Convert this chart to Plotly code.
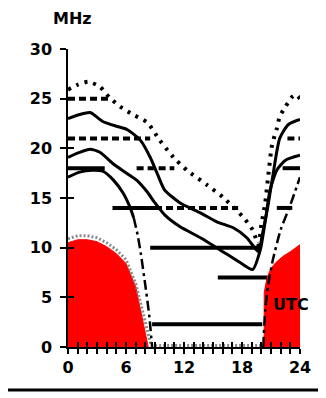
import plotly.graph_objects as go

# ---------------- data ----------------
# Upper dotted curve (MHz vs UTC hour)
dotted_hours = [0, 1.0, 2.1, 3.3, 4.3, 5.4, 6.7, 8.2, 9.5, 10.9, 12.3, 14.4, 16.0, 18.1, 19.1, 19.7,
                20.0, 20.4, 20.7, 21.1, 21.6, 21.9, 22.5, 23.2, 23.6, 24.0]
dotted_mhz = [25.9, 26.4, 26.7, 26.2, 25.1, 24.2, 23.4, 22.6, 20.8, 19.1, 17.8, 16.3, 15.1, 13.1, 11.8, 10.3,
              12.3, 14.5, 17.1, 20.3, 22.0, 23.2, 24.2, 25.2, 25.4, 25.0]

# Upper solid curve
b_hours = [0, 1.2, 2.3, 3.6, 5.1, 6.1, 7.5, 8.5, 9.3, 10.0, 11.6, 13.7, 15.4, 17.1, 18.5, 19.7,
           20.1, 20.7, 21.2, 21.9, 22.8, 24.0]
b_mhz = [23.0, 23.4, 23.6, 22.7, 22.2, 21.9, 20.8, 19.1, 17.3, 15.8, 14.5, 13.5, 12.6, 12.0, 11.0, 9.6,
         11.3, 14.3, 17.3, 21.0, 22.4, 22.9]

# Middle solid curve
c_hours = [0, 1.2, 2.3, 3.3, 4.6, 5.9, 7.1, 8.2, 9.0, 10.0, 11.6, 13.7, 15.7, 17.8, 19.1,
           19.9, 20.5, 20.9, 21.6, 22.5, 24.0]
c_mhz = [19.1, 19.6, 19.9, 19.6, 18.5, 17.6, 16.8, 15.6, 14.5, 13.3, 12.1, 11.0, 9.8, 8.5, 7.8,
         9.8, 13.3, 15.8, 17.8, 18.8, 19.3]

# Lower solid curve (continues as dash-dot)
d_hours = [0, 1.2, 2.5, 3.6, 4.7, 5.7, 6.4, 6.8]
d_mhz = [17.1, 17.6, 17.8, 17.7, 16.8, 15.5, 14.1, 13.0]
e_left_hours = [6.8, 7.2, 7.55, 8.0, 8.4, 8.7]
e_left_mhz = [13.0, 11.3, 9.3, 6.2, 3.2, 0]
e_right_hours = [20.2, 20.4, 20.7, 21.2, 22.0, 23.0, 24.0]
e_right_mhz = [0, 3.7, 6.2, 8.8, 11.8, 14.3, 17.1]

# Red areas
red_left_hours = [0, 1, 2, 3, 4, 5, 6, 7, 8.3]
red_left_mhz = [10.5, 10.8, 10.8, 10.6, 10.1, 9.4, 8.4, 6.1, 0]
red_right_hours = [20.3, 20.3, 20.6, 21.0, 21.5, 22.2, 23.0, 24.0]
red_right_mhz = [0, 5.5, 7.0, 7.9, 8.5, 9.1, 9.6, 10.3]

# Grey stippled outline
grey_hours = [0, 1, 2, 3, 4, 5, 6, 7, 8.6, 20.2]
grey_mhz = [10.9, 11.2, 11.2, 11.0, 10.5, 9.8, 8.8, 6.4, 0.15, 0.15]

# Band bars
band_mhz = [25, 21, 21, 18, 18, 18, 14, 14, 14, 10, 7, 2.3]
band_start = [0, 0, 22.7, 0, 7.1, 22.2, 4.6, 9.0, 21.6, 8.5, 15.5, 8.7]
band_end = [4.3, 8.5, 24, 3.8, 11.0, 24, 9.0, 17.6, 23.2, 19.9, 20.6, 20.1]
band_open = [False, False, False, True, False, True, True, False, True, True, True, True]

y_ticks = [0, 5, 10, 15, 20, 25, 30]
x_ticks = [0, 6, 12, 18, 24]

# ---------------- figure ----------------
fig = go.Figure()

fig.add_trace(go.Scatter(x=red_left_hours, y=red_left_mhz, mode="lines", fill="tozeroy",
                         fillcolor="#ff0000", line=dict(color="#ff0000", width=1)))
fig.add_trace(go.Scatter(x=red_right_hours + [red_right_hours[-1]], y=red_right_mhz + [0], mode="lines",
                         fill="toself", fillcolor="#ff0000", line=dict(color="#ff0000", width=1)))
fig.add_trace(go.Scatter(x=grey_hours, y=grey_mhz, mode="lines",
                         line=dict(color="#8a8a8a", width=3, dash="2px,2px")))

def segs(flag):
    xs, ys = [], []
    for m, s, e, o in zip(band_mhz, band_start, band_end, band_open):
        if o == flag:
            xs += [s, e, None]
            ys += [m, m, None]
    return xs, ys

sx, sy = segs(True)
fig.add_trace(go.Scatter(x=sx, y=sy, mode="lines", line=dict(color="black", width=4)))
dx, dy = segs(False)
fig.add_trace(go.Scatter(x=dx, y=dy, mode="lines", line=dict(color="black", width=4, dash="7px,4px")))

fig.add_trace(go.Scatter(x=dotted_hours, y=dotted_mhz, mode="lines", line_shape="spline",
                         line=dict(color="black", width=4, dash="3px,6px", smoothing=0.6)))
for xs, ys in [(b_hours, b_mhz), (c_hours, c_mhz), (d_hours, d_mhz)]:
    fig.add_trace(go.Scatter(x=xs, y=ys, mode="lines", line_shape="spline",
                             line=dict(color="black", width=3, smoothing=0.6)))
for xs, ys in [(e_left_hours, e_left_mhz), (e_right_hours, e_right_mhz)]:
    fig.add_trace(go.Scatter(x=xs, y=ys, mode="lines", line_shape="spline",
                             line=dict(color="black", width=2.5, dash="10px,4px,3px,4px", smoothing=0.6)))

# invisible trace for the overlay axes
fig.add_trace(go.Scatter(x=[0], y=[0], xaxis="x2", yaxis="y2", mode="markers",
                         marker=dict(opacity=0), hoverinfo="skip"))

font_b = dict(family="DejaVu Sans", size=16, color="black", weight="bold")

# The page has an 8px body margin, so the figure is drawn 8px right and down.
fig.update_layout(
    width=326, height=398,
    margin=dict(l=60, r=34, t=41, b=59),
    paper_bgcolor="white", plot_bgcolor="white",
    showlegend=False,
    xaxis=dict(range=[0, 24], tickvals=x_ticks, ticktext=[str(v) for v in x_ticks],
               showgrid=False, zeroline=False, showline=True, linecolor="black", linewidth=1.5,
               ticks="outside", ticklen=5, tickwidth=1.5, tickcolor="black",
               minor=dict(dtick=1, ticks="outside", ticklen=5, tickwidth=1.5, tickcolor="black"),
               tickfont=font_b, fixedrange=True, layer="below traces"),
    yaxis=dict(range=[0, 30], tickvals=y_ticks, showgrid=False, zeroline=False,
               showline=True, linecolor="black", linewidth=1.5,
               ticks="outside", ticklen=6, tickwidth=1.5, tickcolor="black",
               tickfont=font_b, ticklabelstandoff=5, fixedrange=True),
    xaxis2=dict(range=[0, 24], overlaying="x", dtick=1, ticks="inside", ticklen=5, tickwidth=1.5,
                tickcolor="black", showticklabels=False, showgrid=False, zeroline=False,
                showline=False),
    yaxis2=dict(range=[0, 30], overlaying="y", tickvals=y_ticks, ticks="inside", ticklen=6,
                tickwidth=1.5, tickcolor="black", showticklabels=False, showgrid=False,
                zeroline=False, showline=False),
    annotations=[
        dict(text="MHz", xref="paper", yref="paper", x=0.019, y=1.102, showarrow=False,
             font=font_b, xanchor="center", yanchor="middle"),
        dict(text="UTC", xref="x", yref="y", x=23.07, y=4.23, showarrow=False,
             font=font_b, xanchor="center", yanchor="middle"),
    ],
    shapes=[
        dict(type="line", xref="paper", yref="paper", x0=-0.3, x1=1.12, y0=-0.144, y1=-0.144,
             line=dict(color="black", width=3)),
    ],
)

fig.write_html("out.html")
